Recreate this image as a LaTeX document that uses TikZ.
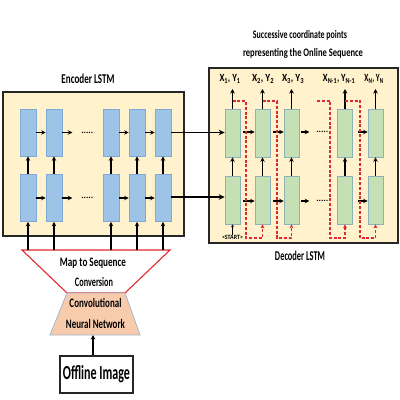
\documentclass[tikz,border=0pt]{standalone}
\usepackage{fontspec}
\setmainfont{Carlito}
\usetikzlibrary{arrows.meta,calc}
\definecolor{boxbg}{HTML}{FFF2CC}
\definecolor{encfill}{HTML}{9DC3E6}
\definecolor{encdraw}{HTML}{7FA9D6}
\definecolor{decfill}{HTML}{C5E0B4}
\definecolor{decdraw}{HTML}{8EB0B8}
\definecolor{redline}{HTML}{E0282E}
\definecolor{cnnfill}{HTML}{F8CBAD}
\definecolor{cnndraw}{HTML}{9FB6CC}
\newcommand{\fitw}[2]{\resizebox{#1}{\height}{#2}}
\tikzset{
  panel/.style={draw=black!85,line width=1.6bp,fill=boxbg},
  enccell/.style={draw=encdraw,fill=encfill,line width=0.6bp,minimum width=16bp,minimum height=47bp,inner sep=0pt},
  deccell/.style={draw=decdraw,fill=decfill,line width=0.6bp,minimum width=15bp,minimum height=48bp,inner sep=0pt},
  arr/.style={line width=1.2bp,-{Stealth[length=4.5bp,width=4.5bp]}},
  bigarr/.style={line width=1.6bp,-{Stealth[length=6bp,width=5.5bp]}},
  reddash/.style={draw=redline,line width=1.1bp,dash pattern=on 3bp off 1.8bp},
  redarr/.style={reddash,-{Stealth[length=4bp,width=4bp]}},
  dots/.style={font=\fontsize{9}{9}\selectfont\bfseries,inner sep=0pt},
  lbl/.style={font=\fontsize{13}{13}\selectfont\bfseries,inner sep=0pt},
  sml/.style={font=\fontsize{11.5}{11.5}\selectfont\bfseries,inner sep=0pt},
  xyl/.style={font=\fontsize{11}{11}\selectfont\bfseries,inner sep=0pt},
}
\begin{document}
\begin{tikzpicture}[x=1bp,y=-1bp]
\useasboundingbox (0,0) rectangle (400,400);
% panels
\node[panel,minimum width=181bp,minimum height=144bp,inner sep=0pt] (encbox) at (93.5,164) {};
\node[panel,minimum width=189bp,minimum height=175bp,inner sep=0pt] (decbox) at (303.5,155.5) {};
\node[lbl,font=\fontsize{13.5}{13.5}\selectfont\bfseries] (enct) at (88,79) {\fitw{53bp}{Encoder LSTM}};
\node[lbl,font=\fontsize{13.5}{13.5}\selectfont\bfseries] (dect) at (300,256) {\fitw{50bp}{Decoder LSTM}};
\node[sml] (sct1) at (300,35.5) {\fitw{94bp}{Successive coordinate points}};
\node[sml] (sct2) at (303,53) {\fitw{120bp}{representing the Online Sequence}};
% encoder cells
\foreach \i/\x in {1/28,2/54,3/111,4/137,5/163}{
  \node[enccell] (et\i) at (\x,132.5) {};
  \node[enccell] (eb\i) at (\x,198) {};
}
\foreach \r in {t,b}{
  \draw[arr] (e\r1.east) -- (e\r2.west);
  \draw[arr] (e\r3.east) -- (e\r4.west);
  \draw[arr] (e\r4.east) -- (e\r5.west);
  \coordinate (e\r gap) at ($(e\r2.east)+(10,0)$);
  \draw[arr] (e\r2.east) -- (e\r gap);
  \node[dots] (e\r dots) at ($(e\r2.east)+(25,0)$) {.....};
}
% decoder cells
\foreach \i/\x in {1/232.5,2/262.5,3/291.5,4/345,5/375.5}{
  \node[deccell] (dt\i) at (\x,133) {};
  \node[deccell] (db\i) at (\x,200) {};
  \draw[arr] (db\i.north) -- (dt\i.south);
  \coordinate (out\i) at (\x,89);
  \draw[arr] (dt\i.north) -- (out\i);
}
\foreach \r/\y in {t/132,b/201}{
  \draw[arr] ($(d\r1.east |- 0,\y)+(3,0)$) -- (d\r2.west |- 0,\y);
  \draw[arr] ($(d\r2.east |- 0,\y)+(3,0)$) -- (d\r3.west |- 0,\y);
  \draw[arr] ($(d\r4.east |- 0,\y)+(5,0)$) -- (d\r5.west |- 0,\y);
  \coordinate (d\r gap) at ($(d\r3.east |- 0,\y)+(10,0)$);
  \draw[arr] ($(d\r3.east |- 0,\y)+(2,0)$) -- (d\r gap);
  \node[dots] (d\r dots) at ($(d\r3.east |- 0,\y)+(23,0)$) {.....};
}
% encoder vertical
\foreach \i in {1,...,5}{
  \draw[arr] (eb\i.north) -- (et\i.south);
  \coordinate (in\i) at (eb\i.south |- 0,250);
}
% encoder to decoder
\draw[bigarr] (et5.east) -- (et5.east -| dt1.west);
\draw[bigarr] ($(eb5.east)+(0,-1)$) -- ($(eb5.east -| db1.west)+(0,-1)$);
% output labels
\node[xyl] (l1) at (230,79) {\fitw{21bp}{X\textsubscript{1}, Y\textsubscript{1}}};
\node[xyl] (l2) at (263,79) {\fitw{22bp}{X\textsubscript{2}, Y\textsubscript{2}}};
\node[xyl] (l3) at (293,79) {\fitw{22bp}{X\textsubscript{3}, Y\textsubscript{3}}};
\node[xyl] (l4) at (339,79) {\fitw{32bp}{X\textsubscript{N-1}, Y\textsubscript{N-1}}};
\node[xyl] (l5) at (374,79) {\fitw{19bp}{X\textsubscript{N}, Y\textsubscript{N}}};
% start
\node[inner sep=0pt,font=\fontsize{6.5}{6.5}\selectfont\bfseries] (start) at (232.5,237.5) {\fitw{21bp}{<START>}};
\draw[line width=0.9bp,-{Stealth[length=3bp,width=3bp]}] (start.north) -- (db1.south);
% red dashed feedback
\coordinate (r1a) at (232.5,101);
\coordinate (r2a) at (262.5,101);
\coordinate (r3a) at (317,101);
\coordinate (r4a) at (345,101);
\foreach \a/\b/\v in {r1a/db2/246,r2a/db3/277,r3a/db4/330,r4a/db5/360}{
  \draw[redarr] (\a) -- (\v,101) -- (\v,238) -- (\b.south |- 0,238) -- (\b.south);
}
% map to sequence trapezoid
\draw[redline,line width=1.1bp,fill=white] (22,250) coordinate (m1) -- (170,250) coordinate (m2) -- (125,293) coordinate (m3) -- (67,293) coordinate (m4) -- cycle;
\foreach \i in {1,...,5}{\draw[arr] (in\i) -- (eb\i.south);}
\node[lbl] (map1) at (93,263) {\fitw{66bp}{Map to Sequence}};
\node[lbl] (map2) at (94,282) {\fitw{38bp}{Conversion}};
% CNN
\draw[cnndraw,line width=0.8bp,fill=cnnfill] (67,293) coordinate (c1) -- (125,293) coordinate (c2) -- (140,335) coordinate (c3) -- (50,335) coordinate (c4) -- cycle;
\node[lbl] (cnn1) at (95.5,303) {\fitw{52bp}{Convolutional}};
\node[lbl] (cnn2) at (95.5,323.5) {\fitw{59bp}{Neural Network}};
% offline image
\node[draw=black!85,line width=1.6bp,fill=white,minimum width=73bp,minimum height=37bp,inner sep=0pt,font=\fontsize{20}{20}\selectfont\bfseries] (off) at (96.5,374.5) {\fitw{67bp}{Offline Image}};
\coordinate (cnnb) at (93,335);
\draw[arr] (off.north -| cnnb) -- (cnnb);
\end{tikzpicture}
\end{document}
